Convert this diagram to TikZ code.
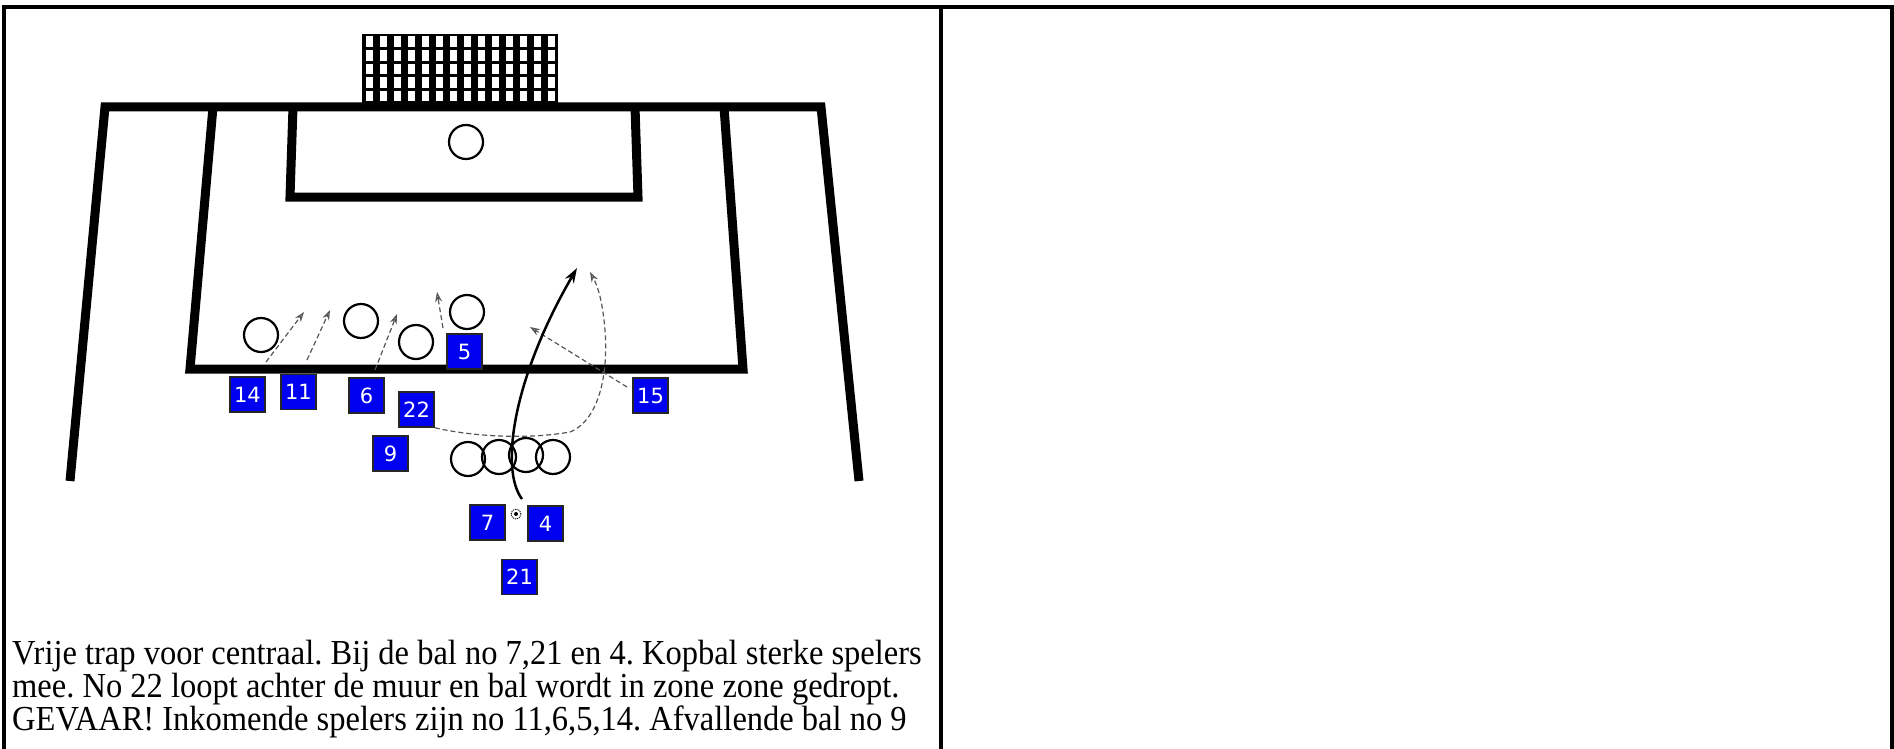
\documentclass[tikz,border=0pt]{standalone}
\usepackage{fontspec}
\setmainfont{Liberation Serif}
\newfontfamily\boxfont{DejaVu Sans}
\usetikzlibrary{arrows.meta}
\definecolor{pblue}{RGB}{0,0,240}
\definecolor{rungray}{RGB}{85,85,85}
\frenchspacing
\begin{document}
\begin{tikzpicture}[x=1pt,y=-1pt,
  field/.style={line width=9pt, line join=miter, line cap=butt},
  framebox/.style={line width=3.5pt},
  player/.style={draw=black!85, line width=1.5pt, fill=pblue, minimum size=35pt, inner sep=0pt, text=white, font=\boxfont\fontsize{21}{21}\selectfont},
  opp/.style={circle, draw=black, line width=2.2pt, minimum size=34pt, inner sep=0pt},
  run/.style={draw=rungray, line width=1.2pt, dash pattern=on 5pt off 3pt, -{Stealth[open,length=10pt,width=7pt]}},
  kick/.style={draw=black, line width=2.5pt, -{Stealth[length=15pt,width=10pt]}},
  caption/.style={anchor=base west, inner sep=0pt, font=\fontsize{32.5}{36}\selectfont}]
\useasboundingbox (0,0) rectangle (1894,749);
% table frame
\draw[framebox] (4,749) -- (4,7) -- (1892,7) -- (1892,749);
\draw[framebox] (941,7) -- (941,749);
% goal net
\fill (362,34) rectangle (558,107);
\foreach \i in {0,...,13} {
  \foreach \j in {0,...,4} {
    \fill[white] ({366+\i*14},{36.5+\j*13.6}) rectangle ++(7,10.5);
  }
}
% field lines
\draw[field] (70,481) -- (105,107) -- (821,107) -- (859,481);
\draw[field] (213,107) -- (190,369) -- (743,369) -- (724,107);
\draw[field] (293,107) -- (290,197) -- (638,197) -- (635,107);
% opponents
\node[opp] (gk) at (466,142) {};
\node[opp] (o1) at (261,335) {};
\node[opp] (o2) at (361,321) {};
\node[opp] (o3) at (416,342) {};
\node[opp] (o4) at (467,312) {};
\node[opp] (w1) at (468,459) {};
\node[opp] (w2) at (499,457) {};
\node[opp] (w3) at (526,455) {};
\node[opp] (w4) at (553,457) {};
% players
\node[player] (p14) at (247.5,394.5) {14};
\node[player] (p11) at (298.5,392) {11};
\node[player] (p6) at (366.5,395.5) {6};
\node[player] (p22) at (416.5,409.5) {22};
\node[player] (p5) at (464.5,351.5) {5};
\node[player] (p9) at (390.5,453.5) {9};
\node[player] (p15) at (650.5,395.5) {15};
\node[player] (p7) at (487.5,522.5) {7};
\node[player] (p4) at (545.5,523.5) {4};
\node[player] (p21) at (519.5,577) {21};
% ball
\node[circle, draw=black, densely dotted, line width=1pt, minimum size=10pt, inner sep=0pt] (ball) at (516,514) {};
\fill (ball.center) circle (2pt);
% run coordinates
\coordinate (r14s) at (266,362); \coordinate (r14e) at (304,312);
\coordinate (r11s) at (307,360); \coordinate (r11e) at (330,310);
\coordinate (r6s) at (375,370);  \coordinate (r6e) at (397,314);
\coordinate (r5s) at (443,328);  \coordinate (r5e) at (437,292);
\coordinate (r15s) at (627,387); \coordinate (r15e) at (530,327);
\coordinate (r22e) at (590,272);
\coordinate (kickS) at (522,499); \coordinate (kickE) at (577,268);
% runs
\draw[run] (r14s) -- (r14e);
\draw[run] (r11s) -- (r11e);
\draw[run] (r6s) -- (r6e);
\draw[run] (r5s) -- (r5e);
\draw[run] (r15s) -- (r15e);
\draw[run] (p22.south east) .. controls (470,436) and (525,440) .. (570,432)
  .. controls (600,420) and (610,370) .. (604,320)
  .. controls (601,295) and (597,285) .. (r22e);
% kick
\draw[kick] (kickS) .. controls (500,470) and (512,380) .. (kickE);
% caption
\node[caption] (t1) at (12,664) {\scalebox{1}[1.08]{Vrije trap voor centraal. Bij de bal no 7,21 en 4. Kopbal sterke spelers}};
\node[caption] (t2) at (12,697) {\scalebox{1}[1.08]{mee. No 22 loopt achter de muur en bal wordt in zone zone gedropt.}};
\node[caption] (t3) at (12,730) {\scalebox{1}[1.08]{GEVAAR! Inkomende spelers zijn no 11,6,5,14. Afvallende bal no 9}};
\end{tikzpicture}
\end{document}
